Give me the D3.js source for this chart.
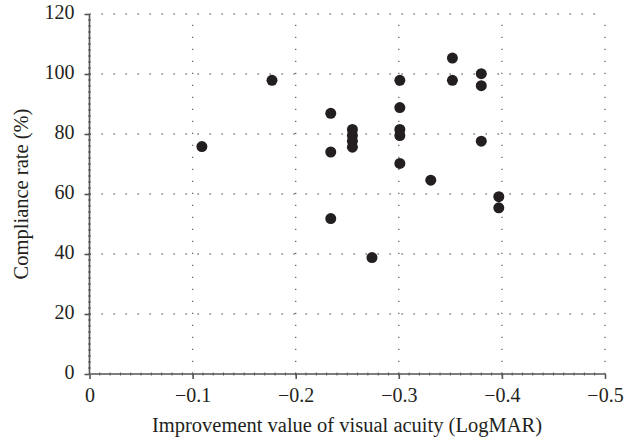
<!DOCTYPE html>
<html lang="en">
<head>
<meta charset="utf-8">
<title>Compliance vs improvement</title>
<script src="https://d3js.org/d3.v7.min.js"></script>
<style>
    body { margin: 0; background: #fff; }
    text { font-family: "Liberation Serif", "DejaVu Serif", serif; fill: #231f20; }
    .grid line { stroke: #666; stroke-width: 1.3; stroke-dasharray: 1.3, 10.7; }
    .axis path, .axis line { stroke: #555; stroke-width: 1.6; }
</style>
</head>
<body>
<div id="chart"></div>
<script>
// improvement of visual acuity (LogMAR) and compliance rate (%)
var improvement = [-0.109, -0.177, -0.234, -0.234, -0.234, -0.255, -0.255, -0.255, -0.255,
                   -0.301, -0.301, -0.301, -0.301, -0.301, -0.274, -0.331,
                   -0.352, -0.352, -0.380, -0.380, -0.380, -0.397, -0.397];
var compliance  = [75.8, 97.9, 86.9, 74.0, 51.8, 81.5, 79.5, 77.6, 75.6,
                   97.9, 88.8, 81.5, 79.5, 70.2, 38.8, 64.6,
                   105.3, 97.9, 100.1, 96.1, 77.6, 59.1, 55.4];

var xTicks = [0, -0.1, -0.2, -0.3, -0.4, -0.5];
var yTicks = [0, 20, 40, 60, 80, 100, 120];

var W = 637, H = 440;

var svg = d3.select("#chart").append("svg")
    .attr("width", W)
    .attr("height", H);

var x = d3.scaleLinear().domain([0, -0.5]).range([89.5, 605]);
var y = d3.scaleLinear().domain([0, 120]).range([374, 14]);

// dotted grid
var grid = svg.append("g").attr("class", "grid");
grid.selectAll(".gx").data(xTicks.slice(1)).enter().append("line")
    .attr("x1", d => x(d)).attr("x2", d => x(d))
    .attr("y1", y(0)).attr("y2", y(120));
grid.selectAll(".gy").data(yTicks.slice(1)).enter().append("line")
    .attr("x1", x(0)).attr("x2", x(-0.5))
    .attr("y1", d => y(d)).attr("y2", d => y(d));

// minor ticks
var minor = svg.append("g").attr("class", "axis");
minor.selectAll(".mx").data(d3.range(1, 50)).enter().append("line")
    .attr("x1", d => x(-d / 100)).attr("x2", d => x(-d / 100))
    .attr("y1", y(0) - 1.5).attr("y2", y(0) + 1.5)
    .style("stroke-width", 1);
minor.selectAll(".my").data(d3.range(1, 60)).enter().append("line")
    .attr("x1", x(0) - 1.5).attr("x2", x(0) + 1.5)
    .attr("y1", d => y(d * 2)).attr("y2", d => y(d * 2))
    .style("stroke-width", 1);

// axes
var xAxis = d3.axisBottom(x).tickValues(xTicks).tickSize(5).tickPadding(9)
    .tickFormat(d => d === 0 ? "0" : d3.format(".1f")(d));
svg.append("g").attr("class", "axis")
    .attr("transform", "translate(0," + y(0) + ")")
    .call(xAxis)
    .call(g => g.select(".domain").attr("d", "M" + x(0) + ",0H" + x(-0.5)))
    .selectAll("text").style("font-size", "20px").attr("fill", "#231f20");

var yAxis = d3.axisLeft(y).tickValues(yTicks).tickSize(5).tickPadding(10);
svg.append("g").attr("class", "axis")
    .attr("transform", "translate(" + x(0) + ",0)")
    .call(yAxis)
    .call(g => g.select(".domain").attr("d", "M0," + y(0) + "V" + y(120)))
    .selectAll("text").style("font-size", "20px").attr("dy", "0.22em").attr("fill", "#231f20");

// points
svg.append("g").selectAll("circle")
    .data(improvement.map((v, i) => [v, compliance[i]]))
    .enter().append("circle")
    .attr("cx", d => x(d[0]))
    .attr("cy", d => y(d[1]))
    .attr("r", 5.5)
    .attr("fill", "#231f20");

// titles
svg.append("text")
    .attr("x", 347).attr("y", 432)
    .attr("text-anchor", "middle")
    .style("font-size", "20.5px")
    .text("Improvement value of visual acuity (LogMAR)");

svg.append("text")
    .attr("transform", "translate(28,194) rotate(-90)")
    .attr("text-anchor", "middle")
    .style("font-size", "20.5px")
    .text("Compliance rate (%)");
</script>
</body>
</html>
